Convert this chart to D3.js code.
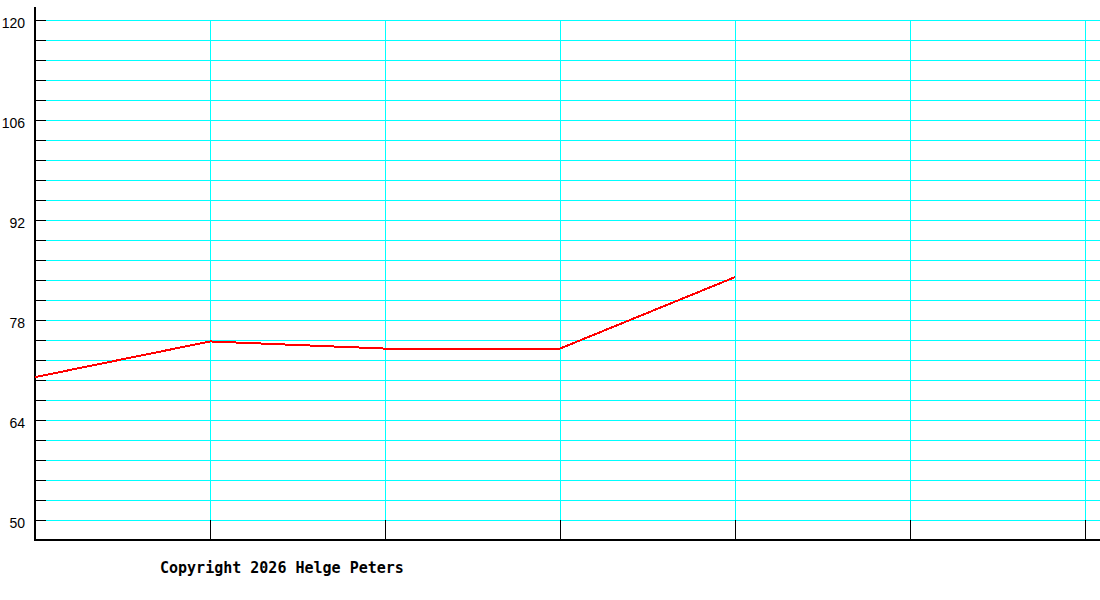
<!DOCTYPE html>
<html>
<head>
<meta charset="utf-8">
<script src="https://cdn.jsdelivr.net/npm/d3@7"></script>
<style>
  body { margin: 0; background: #fff; }
  svg { display: block; }
</style>
</head>
<body>
<div class="container"></div>
<script>
// x slots (no labels on the chart), values of the red series
const slots = [0, 1, 2, 3, 4, 5, 6]
const values = [70, 75, 74, 74, 84]
const yLabels = [50, 64, 78, 92, 106, 120]
const yMinorStep = 2.8

const w = 1100
const h = 600
const plotLeft = 35
const plotRight = 1085
const plotTop = 20
const plotBottom = 520
const axisY = 540

const xScale = d3.scaleLinear().domain([0, slots.length - 1]).range([plotLeft, plotRight])
const yScale = d3.scaleLinear().domain([50, 120]).range([plotBottom, plotTop])

const yTicks = d3.range(0, 26).map((i) => +(50 + i * yMinorStep).toFixed(1))

const svg = d3.select(".container")
  .append("svg")
  .attr("width", w)
  .attr("height", h)

// horizontal grid
svg.append("g")
  .selectAll("line")
  .data(yTicks)
  .enter()
  .append("line")
  .attr("x1", plotLeft + 11)
  .attr("x2", w)
  .attr("y1", (d) => Math.round(yScale(d)) + 0.5)
  .attr("y2", (d) => Math.round(yScale(d)) + 0.5)
  .attr("stroke", "#00ffff")
  .attr("stroke-width", 1)
  .attr("shape-rendering", "crispEdges")

// vertical grid
svg.append("g")
  .selectAll("line")
  .data(slots)
  .enter()
  .append("line")
  .attr("x1", (d) => Math.round(xScale(d)) + 0.5)
  .attr("x2", (d) => Math.round(xScale(d)) + 0.5)
  .attr("y1", plotTop)
  .attr("y2", plotBottom)
  .attr("stroke", "#00ffff")
  .attr("stroke-width", 1)
  .attr("shape-rendering", "crispEdges")

// y axis, ticks pointing into the plot
const yAxis = d3.axisLeft(yScale)
  .tickValues(yTicks)
  .tickSizeInner(-11)
  .tickSizeOuter(0)
  .tickPadding(10)
  .tickFormat((d) => yLabels.includes(d) ? d : "")

const gy = svg.append("g")
  .attr("transform", "translate(" + plotLeft + ",0)")
  .call(yAxis)
gy.select(".domain").remove()
gy.selectAll(".tick line")
  .attr("stroke", "#000")
  .attr("shape-rendering", "crispEdges")
gy.selectAll(".tick text")
  .attr("font-family", "'Liberation Sans', Arial, sans-serif")
  .attr("font-size", 14)
  .attr("font-weight", "normal")
  .attr("fill", "#000")
  .attr("dy", "0.5em")

// x axis, ticks going up from the base line
const xAxis = d3.axisBottom(xScale)
  .tickValues(slots)
  .tickSizeInner(-20)
  .tickSizeOuter(0)
  .tickFormat("")

const gx = svg.append("g")
  .attr("transform", "translate(0," + axisY + ")")
  .call(xAxis)
gx.select(".domain").remove()
gx.selectAll(".tick line")
  .attr("stroke", "#000")
  .attr("shape-rendering", "crispEdges")

// axis lines
svg.append("line")
  .attr("x1", plotLeft).attr("x2", plotLeft)
  .attr("y1", 7).attr("y2", axisY + 1)
  .attr("stroke", "#000")
  .attr("stroke-width", 2)
  .attr("shape-rendering", "crispEdges")

svg.append("line")
  .attr("x1", plotLeft - 1).attr("x2", w)
  .attr("y1", axisY).attr("y2", axisY)
  .attr("stroke", "#000")
  .attr("stroke-width", 2)
  .attr("shape-rendering", "crispEdges")

// data line
const line = d3.line()
  .x((d, i) => xScale(slots[i]))
  .y((d) => yScale(d))

svg.append("path")
  .datum(values)
  .attr("d", line)
  .attr("fill", "none")
  .attr("stroke", "#ff0000")
  .attr("stroke-width", 2)
  .attr("shape-rendering", "crispEdges")

svg.append("text")
  .attr("x", 160)
  .attr("y", 573)
  .attr("font-family", "'DejaVu Sans Mono', monospace")
  .attr("font-size", 15)
  .attr("font-weight", "bold")
  .attr("fill", "#000")
  .text("Copyright 2026 Helge Peters")
</script>
</body>
</html>
